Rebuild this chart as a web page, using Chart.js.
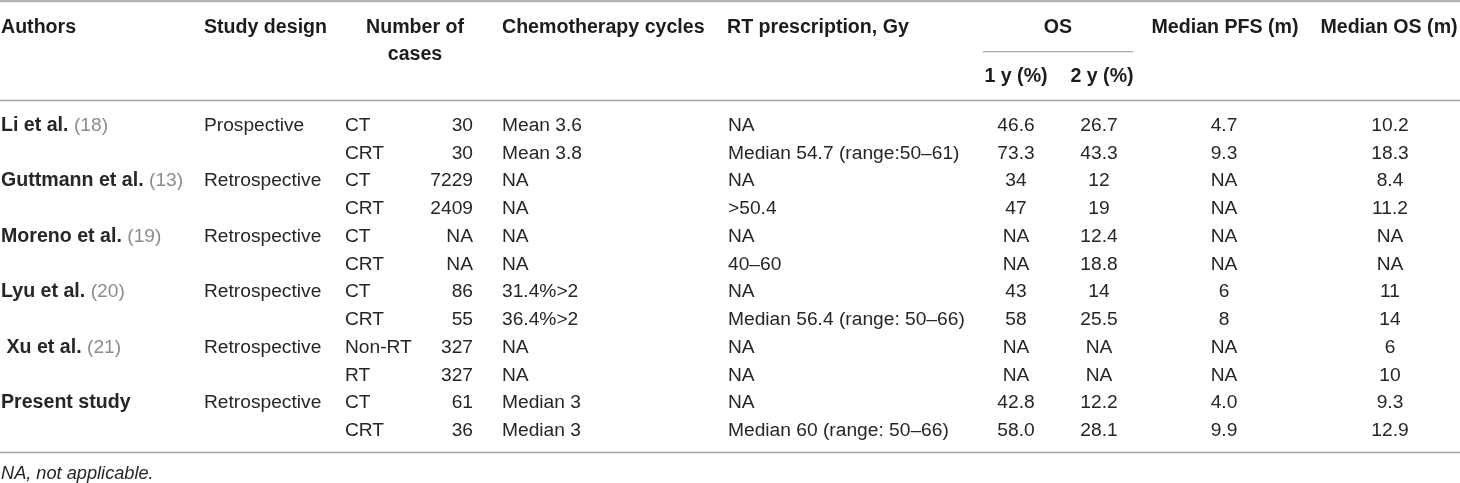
<!DOCTYPE html>
<html>
<head>
<meta charset="utf-8">
<script src="https://cdn.jsdelivr.net/npm/chart.js@4.4.0/dist/chart.umd.min.js"></script>
<style>
html,body{margin:0;padding:0;background:#fff;}
#wrap{width:1460px;height:483px;position:relative;}
</style>
</head>
<body>
<div id="wrap"><canvas id="c"></canvas></div>
<script>
// ---------- DATA ----------
const authors = ["Li et al.", "Guttmann et al.", "Moreno et al.", "Lyu et al.", " Xu et al.", "Present study"];
const refs = ["(18)", "(13)", "(19)", "(20)", "(21)", ""];
const designs = ["Prospective", "Retrospective", "Retrospective", "Retrospective", "Retrospective", "Retrospective"];
const groups = ["CT", "CRT", "CT", "CRT", "CT", "CRT", "CT", "CRT", "Non-RT", "RT", "CT", "CRT"];
const cases = ["30", "30", "7229", "2409", "NA", "NA", "86", "55", "327", "327", "61", "36"];
const chemoCycles = ["Mean 3.6", "Mean 3.8", "NA", "NA", "NA", "NA", "31.4%>2", "36.4%>2", "NA", "NA", "Median 3", "Median 3"];
const rtPrescription = ["NA", "Median 54.7 (range:50–61)", "NA", ">50.4", "NA", "40–60", "NA", "Median 56.4 (range: 50–66)", "NA", "NA", "NA", "Median 60 (range: 50–66)"];
const os1y = ["46.6", "73.3", "34", "47", "NA", "NA", "43", "58", "NA", "NA", "42.8", "58.0"];
const os2y = ["26.7", "43.3", "12", "19", "12.4", "18.8", "14", "25.5", "NA", "NA", "12.2", "28.1"];
const medianPFS = ["4.7", "9.3", "NA", "NA", "NA", "NA", "6", "8", "NA", "NA", "4.0", "9.9"];
const medianOS = ["10.2", "18.3", "8.4", "11.2", "NA", "NA", "11", "14", "6", "10", "9.3", "12.9"];
const headerRow1 = ["Authors", "Study design", "Number of", "Chemotherapy cycles", "RT prescription, Gy", "OS", "Median PFS (m)", "Median OS (m)"];
const headerRow2 = ["cases", "1 y (%)", "2 y (%)"];
const footnote = "NA, not applicable.";

// ---------- LAYOUT (positions / styles) ----------
const X_MAX = 1460;
const Y_MIN = -4.52, Y_MAX = 12.88;     // row units (body row i at value i)
const H1 = -3.51, H2 = -2.54, H3 = -1.75, FOOT_Y = 12.55;
const RULES = [
  {y: -4.48, x0: 0, x1: 1460, w: 2.5, c: "#b4b4b4"},
  {y: -2.66, x0: 983, x1: 1133, w: 1.3, c: "#a8a8a8"},
  {y: -0.90, x0: 0, x1: 1460, w: 1.5, c: "#a4a4a4"},
  {y: 11.78, x0: 0, x1: 1460, w: 1.5, c: "#a4a4a4"}
];
const BODY_FONT = '19.2px "Liberation Sans", Arial, sans-serif';
const BOLD_FONT = 'bold 19.6px "Liberation Sans", Arial, sans-serif';
const ITAL_FONT = 'italic 18.2px "Liberation Sans", Arial, sans-serif';
const TEXT_COL = "#262626", HEAD_COL = "#1c1c1c", REF_COL = "#8c8c8c";

const bodyRows = groups.map((_, i) => i);
const authorRows = authors.map((_, i) => i * 2);

function col(labels, rows, xAnchor, align, font, color, extra) {
  return Object.assign({
    type: 'scatter',
    data: rows.map(r => ({x: xAnchor, y: r})),
    cellLabels: labels,
    cellAlign: align,
    cellFont: font,
    cellColor: color,
    pointRadius: 0,
    showLine: false
  }, extra || {});
}

const datasets = [
  // header
  col([headerRow1[0]], [H1], 1, 'left', BOLD_FONT, HEAD_COL),
  col([headerRow1[1]], [H1], 204, 'left', BOLD_FONT, HEAD_COL),
  col([headerRow1[2], headerRow2[0]], [H1, H2], 415, 'center', BOLD_FONT, HEAD_COL),
  col([headerRow1[3]], [H1], 502, 'left', BOLD_FONT, HEAD_COL),
  col([headerRow1[4]], [H1], 727, 'left', BOLD_FONT, HEAD_COL),
  col([headerRow1[5]], [H1], 1058, 'center', BOLD_FONT, HEAD_COL),
  col([headerRow2[1]], [H3], 1016, 'center', BOLD_FONT, HEAD_COL),
  col([headerRow2[2]], [H3], 1102, 'center', BOLD_FONT, HEAD_COL),
  col([headerRow1[6]], [H1], 1225, 'center', BOLD_FONT, HEAD_COL),
  col([headerRow1[7]], [H1], 1389, 'center', BOLD_FONT, HEAD_COL),
  // body
  col(authors, authorRows, 1, 'left', BOLD_FONT, TEXT_COL, {cellRefs: refs}),
  col(designs, authorRows, 204, 'left', BODY_FONT, TEXT_COL),
  col(groups, bodyRows, 345, 'left', BODY_FONT, TEXT_COL),
  col(cases, bodyRows, 473, 'right', BODY_FONT, TEXT_COL),
  col(chemoCycles, bodyRows, 502, 'left', BODY_FONT, TEXT_COL),
  col(rtPrescription, bodyRows, 728, 'left', BODY_FONT, TEXT_COL),
  col(os1y, bodyRows, 1016, 'center', BODY_FONT, TEXT_COL),
  col(os2y, bodyRows, 1099, 'center', BODY_FONT, TEXT_COL),
  col(medianPFS, bodyRows, 1224, 'center', BODY_FONT, TEXT_COL),
  col(medianOS, bodyRows, 1390, 'center', BODY_FONT, TEXT_COL),
  col([footnote], [FOOT_Y], 1, 'left', ITAL_FONT, TEXT_COL)
];

const tablePlugin = {
  id: 'tablePlugin',
  afterDatasetsDraw(chart) {
    const ctx = chart.ctx;
    const xs = chart.scales.x, ys = chart.scales.y;
    ctx.save();
    // rules
    RULES.forEach(r => {
      const py = ys.getPixelForValue(r.y);
      ctx.beginPath();
      ctx.strokeStyle = r.c;
      ctx.lineWidth = r.w;
      ctx.moveTo(xs.getPixelForValue(r.x0), py);
      ctx.lineTo(xs.getPixelForValue(r.x1), py);
      ctx.stroke();
    });
    // cells
    chart.data.datasets.forEach((ds, di) => {
      const meta = chart.getDatasetMeta(di);
      ctx.font = ds.cellFont;
      ctx.fillStyle = ds.cellColor;
      ctx.textAlign = ds.cellAlign;
      ctx.textBaseline = 'middle';
      meta.data.forEach((el, i) => {
        const txt = ds.cellLabels[i];
        ctx.font = ds.cellFont;
        ctx.fillStyle = ds.cellColor;
        ctx.fillText(txt, el.x, el.y);
        if (ds.cellRefs && ds.cellRefs[i]) {
          const w = ctx.measureText(txt + ' ').width;
          ctx.font = BODY_FONT;
          ctx.fillStyle = REF_COL;
          ctx.textAlign = 'left';
          ctx.fillText(ds.cellRefs[i], el.x + w, el.y);
          ctx.textAlign = ds.cellAlign;
        }
      });
    });
    ctx.restore();
  }
};

new Chart(document.getElementById('c'), {
  type: 'scatter',
  data: {datasets},
  options: {
    responsive: true,
    maintainAspectRatio: false,
    animation: false,
    events: [],
    layout: {padding: 0},
    plugins: {legend: {display: false}, tooltip: {enabled: false}, title: {display: false}},
    scales: {
      x: {type: 'linear', min: 0, max: X_MAX, display: false},
      y: {type: 'linear', min: Y_MIN, max: Y_MAX, reverse: true, display: false}
    }
  },
  plugins: [tablePlugin]
});
</script>
</body>
</html>
